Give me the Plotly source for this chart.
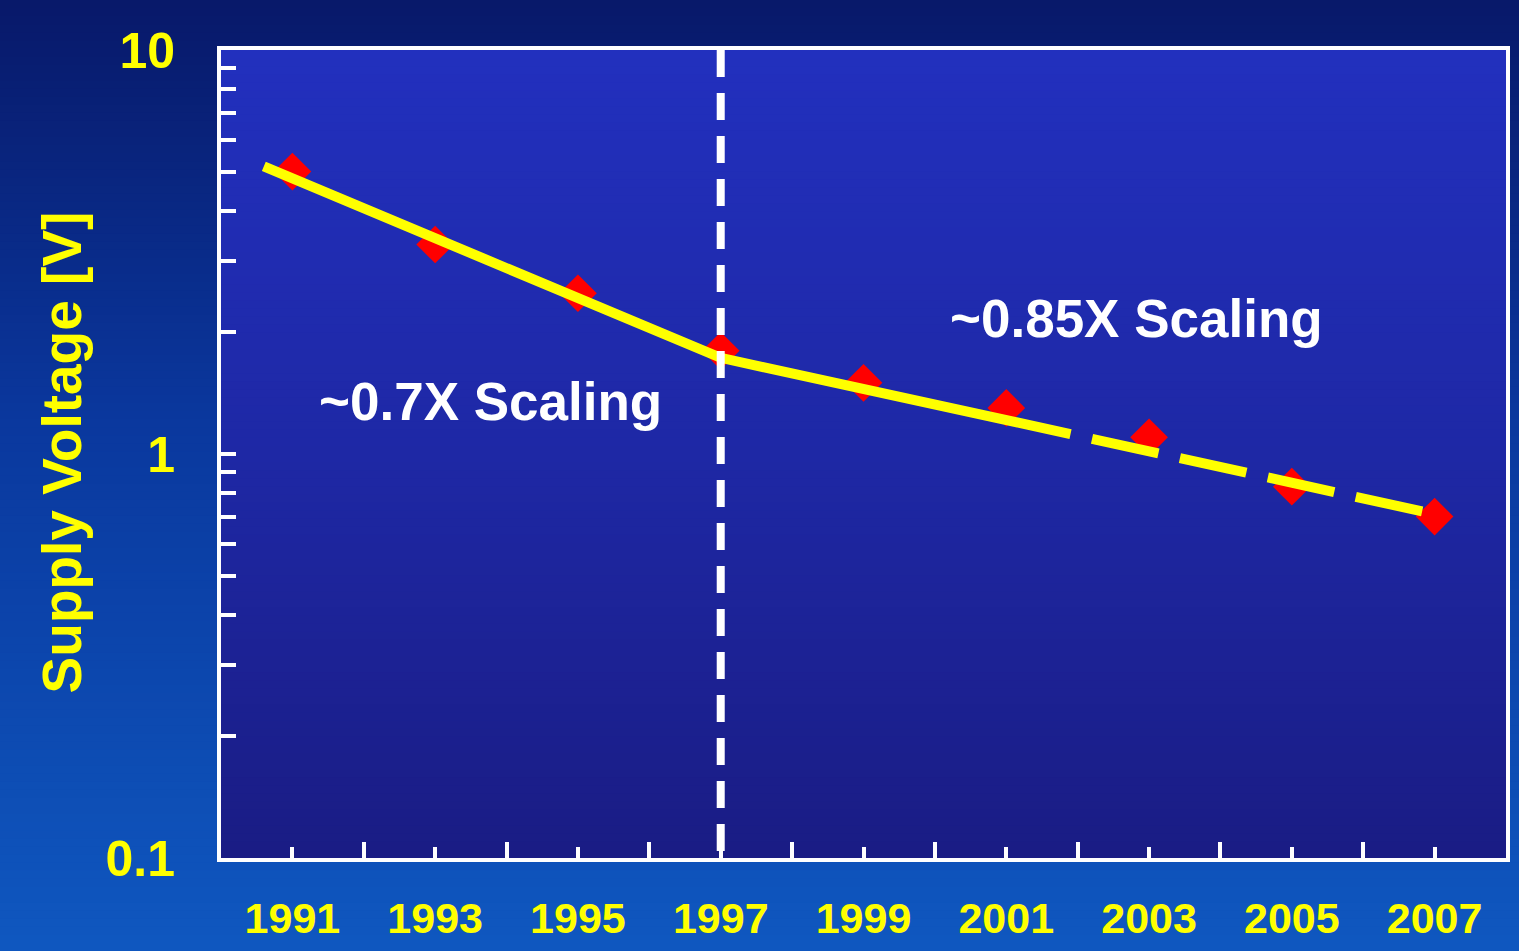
import plotly.graph_objects as go

# Measured supply voltage by year
years = [1991, 1993, 1995, 1997, 1999, 2001, 2003, 2005, 2007]
voltage = [5.0, 3.3, 2.5, 1.8, 1.5, 1.3, 1.1, 0.83, 0.70]

# Trend lines: ~0.7X per node until 1997, ~0.85X afterwards (dashed = projection)
trend_solid_years = [1990.6, 1997, 2001.9]
trend_solid_v = [5.15, 1.73, 1.12]
trend_dash_years = [2001.9, 2007.0]
trend_dash_v = [1.12, 0.71]

odd_years = list(range(1991, 2008, 2))
even_years = list(range(1992, 2007, 2))
y_major = [0.1, 1, 10]
y_major_text = ["0.1", "1", "10"]
y_minor = [0.2, 0.3, 0.4, 0.5, 0.6, 0.7, 0.8, 0.9, 2, 3, 4, 5, 6, 7, 8, 9]

W, H = 1519, 951
ML, MR, MT, MB = 221, 13, 50, 93
PW, PH = W - ML - MR, H - MT - MB

YELLOW = "#ffff00"
FONT = "Liberation Sans, Arial, sans-serif"


def lerp_color(stops, t):
    for (t0, c0), (t1, c1) in zip(stops, stops[1:]):
        if t0 <= t <= t1:
            f = (t - t0) / (t1 - t0) if t1 > t0 else 0
            return "rgb(%d,%d,%d)" % tuple(round(a + (b - a) * f) for a, b in zip(c0, c1))
    return "rgb(%d,%d,%d)" % stops[-1][1]


def gradient_bands(x0, x1, y0, y1, stops, n):
    """Vertical gradient (top -> bottom) as stacked paper-referenced rectangles."""
    shapes = []
    h = (y1 - y0) / n
    for i in range(n):
        top = y1 - i * h
        bot = top - h * 1.6
        shapes.append(dict(
            type="rect", xref="paper", yref="paper",
            x0=x0, x1=x1, y0=max(bot, y0), y1=top,
            fillcolor=lerp_color(stops, (i + 0.5) / n),
            line=dict(width=0), layer="below"))
    return shapes


outer_stops = [(0.0, (8, 24, 105)), (0.45, (10, 56, 158)), (1.0, (15, 88, 192))]
plot_stops = [(0.0, (34, 48, 190)), (0.5, (30, 40, 165)), (1.0, (26, 28, 132))]

shapes = []
shapes += gradient_bands(-ML / PW - 0.01, 1 + MR / PW + 0.01, -MB / PH - 0.01,
                         1 + MT / PH + 0.01, outer_stops, 120)
shapes += gradient_bands(0, 1, 0, 1, plot_stops, 100)
# 1997 boundary marker
shapes.append(dict(type="line", xref="x", yref="paper", x0=1997, x1=1997, y0=1, y1=0,
                   line=dict(color="white", width=8, dash="27px,16px"), layer="above"))

fig = go.Figure()

fig.add_trace(go.Scatter(
    x=years, y=voltage, mode="markers",
    marker=dict(symbol="diamond", size=29, color="#ff0000", line=dict(width=0)),
    showlegend=False, hoverinfo="skip"))

fig.add_trace(go.Scatter(
    x=trend_solid_years, y=trend_solid_v, mode="lines",
    line=dict(color=YELLOW, width=10),
    showlegend=False, hoverinfo="skip"))

fig.add_trace(go.Scatter(
    x=trend_dash_years, y=trend_dash_v, mode="lines",
    line=dict(color=YELLOW, width=10,
              dash="0px,22px,68px,22px,68px,22px,68px,22px,68px,22px,68px,22px"),
    showlegend=False, hoverinfo="skip"))

annotations = [
    dict(text="~0.7X Scaling", x=1993.77, y=0.130, xref="x", yref="y",
         showarrow=False, xanchor="center", yanchor="middle",
         font=dict(family=FONT, size=53, color="white", weight="bold")),
    dict(text="~0.85X Scaling", x=2002.83, y=0.335, xref="x", yref="y",
         showarrow=False, xanchor="center", yanchor="middle",
         font=dict(family=FONT, size=53, color="white", weight="bold")),
    dict(text="Supply Voltage [V]", x=(62 - ML) / PW, y=0.502, xref="paper", yref="paper",
         showarrow=False, textangle=-90, xanchor="center", yanchor="middle",
         font=dict(family=FONT, size=55, color=YELLOW, weight="bold")),
]

tick_common = dict(showline=True, mirror=True, linecolor="white", linewidth=4,
                   ticks="inside", tickcolor="white", tickwidth=4,
                   showgrid=False, zeroline=False, automargin=False)

fig.update_layout(
    width=W, height=H, autosize=False,
    margin=dict(l=ML, r=MR, t=MT, b=MB, pad=0, autoexpand=False),
    paper_bgcolor="rgb(12,70,175)", plot_bgcolor="rgba(0,0,0,0)",
    shapes=shapes, annotations=annotations,
    xaxis=dict(range=[1990, 2008], tickmode="array", tickvals=odd_years,
               ticktext=[str(y) for y in odd_years], ticklen=11,
               tickfont=dict(family=FONT, size=43, color=YELLOW, weight="bold"),
               ticklabelstandoff=19,
               minor=dict(tickmode="array", tickvals=even_years, ticks="inside",
                          ticklen=16, tickwidth=4, tickcolor="white", showgrid=False),
               **tick_common),
    yaxis=dict(type="log", range=[-1, 1], tickmode="array", tickvals=y_major,
               ticktext=y_major_text, ticklen=15,
               tickfont=dict(family=FONT, size=50, color=YELLOW, weight="bold"),
               ticklabelstandoff=32,
               minor=dict(tickmode="array", tickvals=y_minor, ticks="inside",
                          ticklen=15, tickwidth=4, tickcolor="white", showgrid=False),
               **tick_common),
)

fig.write_html("out.html")
